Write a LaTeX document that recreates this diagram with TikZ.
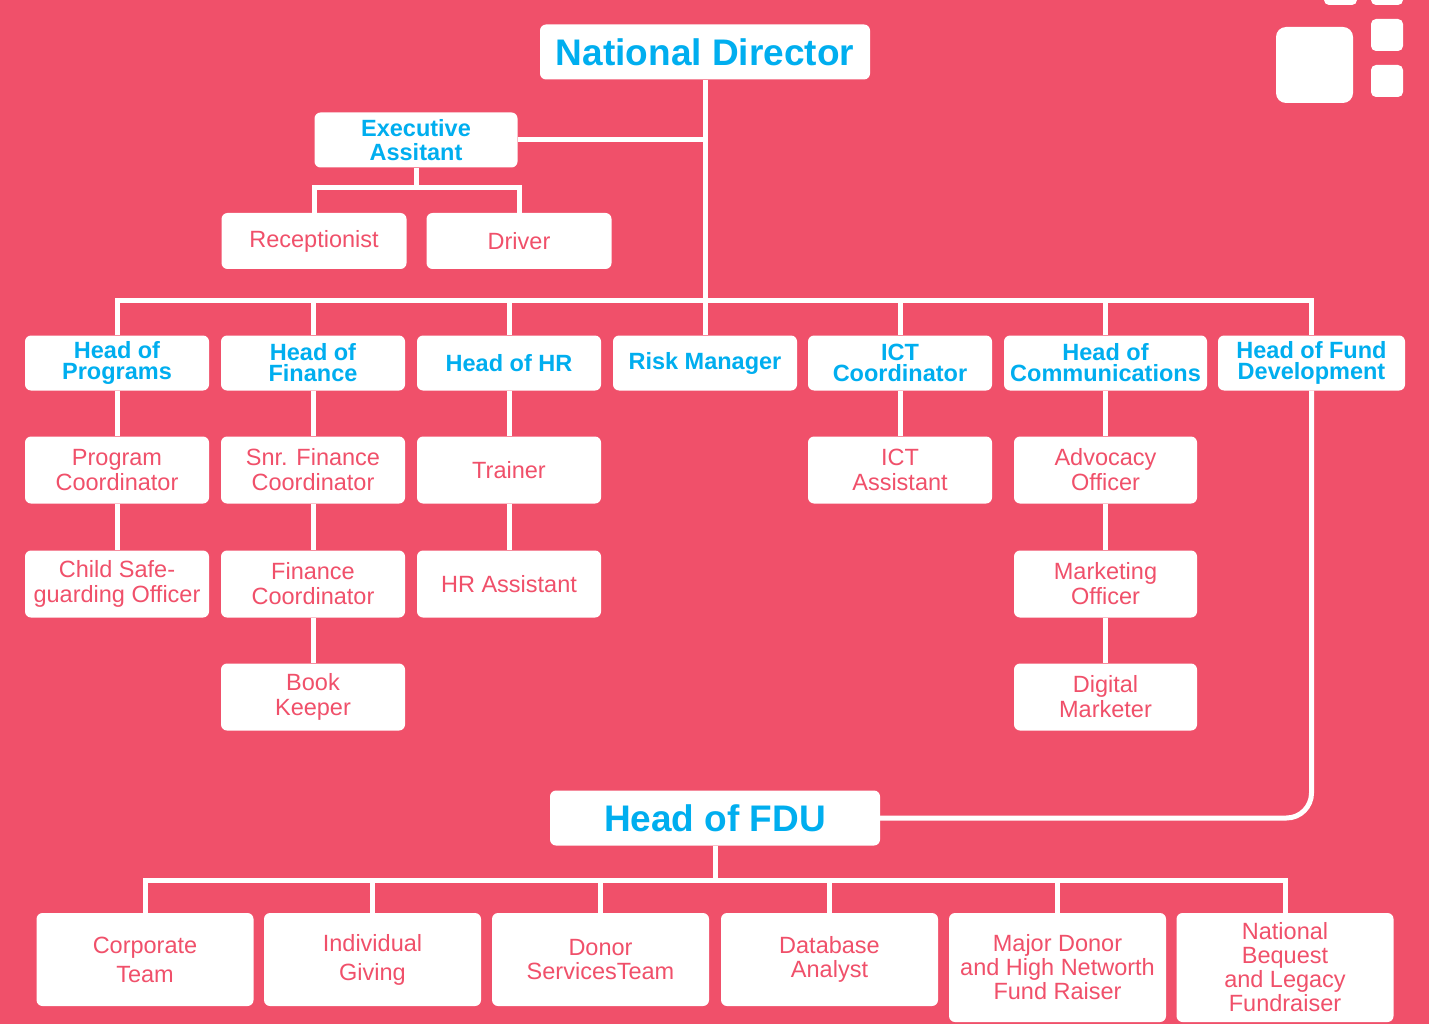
\documentclass[tikz,border=0pt]{standalone}
\usepackage{fontspec}
\setmainfont{Liberation Sans}
\definecolor{bgpink}{HTML}{F0506A}
\definecolor{tpink}{HTML}{F0506A}
\definecolor{tblue}{HTML}{00AEEF}
\begin{document}
\begin{tikzpicture}[x=1pt,y=-1pt,
  box/.style={fill=white,draw=none,rounded corners=6pt,inner sep=0pt,align=center,minimum width=184pt,minimum height=55pt},
  headbox/.style={box,text=tblue,font=\fontsize{23.5}{21}\selectfont\bfseries},
  bigbox/.style={box,text=tblue,font=\fontsize{37}{40}\selectfont\bfseries,minimum width=330pt,minimum height=55pt},
  subbox/.style={box,text=tpink,font=\fontsize{23.5}{25}\selectfont,minimum height=67pt},
  botbox/.style={box,text=tpink,font=\fontsize{23.5}{24}\selectfont,minimum width=217pt,minimum height=93pt},
  conn/.style={draw=white,line width=5pt}]
\fill[bgpink] (0,0) rectangle (1429,1024);
\useasboundingbox (0,0) rectangle (1429,1024);
% decoration
\begin{scope}
\clip (0,0) rectangle (1429,1024);
\fill[white,rounded corners=10pt] (1276,27) rectangle (1353,103);
\fill[white,rounded corners=5pt] (1371,19) rectangle (1403,51);
\fill[white,rounded corners=5pt] (1371,65) rectangle (1403,97);
\fill[white,rounded corners=5pt] (1324,-30) rectangle (1357,5);
\fill[white,rounded corners=5pt] (1371,-30) rectangle (1403,5);
\end{scope}
\coordinate (bus) at (705,300);
\coordinate (eab) at (416,188);
\coordinate (fbus) at (715,880);
% nodes
\node[bigbox] (nd) at (705,52) {National Director};
\node[headbox,minimum width=203pt,font=\fontsize{23.5}{24}\selectfont\bfseries] (ea) at (416,140) {Executive\\Assitant};
\node[subbox,minimum height=56pt,minimum width=185pt] (rec) at (314,241) {Receptionist};
\node[subbox,minimum height=56pt,minimum width=185pt] (drv) at (519,241) {Driver};

\node[headbox] (hp) at (117,363) {Head of\\Programs};
\node[headbox] (hf) at (313,363) {Head of\\Finance};
\node[headbox] (hhr) at (509,363) {Head of HR};
\node[headbox] (rm) at (705,363) {Risk Manager};
\node[headbox] (ict) at (900,363) {ICT\\Coordinator};
\node[headbox,minimum width=203pt] (hc) at (1105.5,363) {Head of\\Communications};
\node[headbox,minimum width=187pt] (hfd) at (1311.5,363) {Head of Fund\\Development};

\node[subbox] (pc) at (117,470) {Program\\Coordinator};
\node[subbox] (sfc) at (313,470) {Snr. Finance\\Coordinator};
\node[subbox] (tr) at (509,470) {Trainer};
\node[subbox] (icta) at (900,470) {ICT\\Assistant};
\node[subbox,minimum width=183pt] (ao) at (1105.5,470) {Advocacy\\Officer};

\node[subbox] (cso) at (117,584) {Child Safe-\\guarding Officer};
\node[subbox] (fc) at (313,584) {Finance\\Coordinator};
\node[subbox] (hra) at (509,584) {HR Assistant};
\node[subbox,minimum width=183pt] (mo) at (1105.5,584) {Marketing\\Officer};

\node[subbox] (bk) at (313,697) {Book\\Keeper};
\node[subbox,minimum width=183pt] (dm) at (1105.5,697) {Digital\\Marketer};

\node[bigbox] (fdu) at (715,818) {Head of FDU};

\node[botbox,font=\fontsize{23.5}{29}\selectfont] (ct) at (145,959.5) {Corporate\\Team};
\node[botbox,font=\fontsize{23.5}{29}\selectfont] (ig) at (372.5,959.5) {Individual\\Giving};
\node[botbox] (dst) at (600.5,959.5) {Donor\\ServicesTeam};
\node[botbox] (da) at (829.5,959.5) {Database\\Analyst};
\node[botbox,minimum height=109pt] (md) at (1057.5,967.5) {Major Donor\\and High Networth\\Fund Raiser};
\node[botbox,minimum height=109pt] (nb) at (1285,967.5) {National\\Bequest\\and Legacy\\Fundraiser};

% connectors
\draw[conn] (nd.south) -- (rm.north);
\draw[conn] (ea.east) -- (ea.east -| nd.south);
\draw[conn] (ea.south) -- (eab);
\draw[conn] (rec.north) |- (eab) -| (drv.north);
\draw[conn] (hp.north) |- (bus) -| (hfd.north);
\draw[conn] (hf.north) -- (hf.north |- bus);
\draw[conn] (hhr.north) -- (hhr.north |- bus);
\draw[conn] (ict.north) -- (ict.north |- bus);
\draw[conn] (hc.north) -- (hc.north |- bus);
\draw[conn] (hp.south) -- (pc.north);
\draw[conn] (pc.south) -- (cso.north);
\draw[conn] (hf.south) -- (sfc.north);
\draw[conn] (sfc.south) -- (fc.north);
\draw[conn] (fc.south) -- (bk.north);
\draw[conn] (hhr.south) -- (tr.north);
\draw[conn] (tr.south) -- (hra.north);
\draw[conn] (ict.south) -- (icta.north);
\draw[conn] (hc.south) -- (ao.north);
\draw[conn] (ao.south) -- (mo.north);
\draw[conn] (mo.south) -- (dm.north);
\draw[conn,rounded corners=25pt] (hfd.south) |- (fdu.east);
\draw[conn] (fdu.south) -- (fbus);
\draw[conn] (ct.north) |- (fbus) -| (nb.north);
\draw[conn] (ig.north) -- (ig.north |- fbus);
\draw[conn] (dst.north) -- (dst.north |- fbus);
\draw[conn] (da.north) -- (da.north |- fbus);
\draw[conn] (md.north) -- (md.north |- fbus);
\end{tikzpicture}
\end{document}
